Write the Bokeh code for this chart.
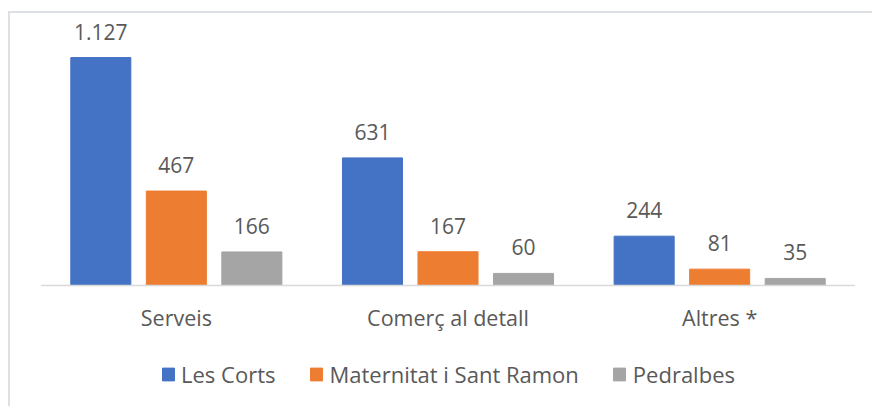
from bokeh.plotting import figure
from bokeh.models import FactorRange, Range1d, ColumnDataSource, LabelSet, Legend, LegendItem
from bokeh.transform import dodge
from bokeh.core.properties import value
from bokeh.embed import file_html
from bokeh.resources import INLINE

categories = ["Serveis", "Comerç al detall", "Altres *"]
series_names = ["Les Corts", "Maternitat i Sant Ramon", "Pedralbes"]
les_corts = [1127, 631, 244]
maternitat = [467, 167, 81]
pedralbes = [166, 60, 35]
series_values = [les_corts, maternitat, pedralbes]
colors = ["#4472C4", "#ED7D31", "#A5A5A5"]
offsets = [-0.278, 0.0, 0.278]

TEXT = "#595959"
FONT = "Open Sans"


def fmt(v):
    return f"{v:,}".replace(",", ".")


p = figure(
    x_range=FactorRange(*categories, range_padding=0),
    y_range=Range1d(-608, 1340),
    width=864, height=395,
    output_backend="svg", toolbar_location=None,
    min_border_left=30, min_border_right=19,
    min_border_top=1, min_border_bottom=0,
)
p.margin = (11, 0, 0, 8)
p.styles = {"border-top": "2px solid #dcdfe4", "border-left": "2px solid #dcdfe4"}
p.outline_line_color = None
p.background_fill_color = "white"
p.border_fill_color = "white"
p.grid.visible = False
p.yaxis.visible = False

xa = p.xaxis[0]
xa.fixed_location = 0
xa.axis_line_color = "#d9d9d9"
xa.axis_line_width = 1.5
xa.major_tick_line_color = None
xa.minor_tick_line_color = None
xa.major_label_text_font = FONT
xa.major_label_text_font_size = "21.5px"
xa.major_label_text_color = TEXT
xa.major_label_standoff = 11

items = []
for name, vals, col, off in zip(series_names, series_values, colors, offsets):
    src = ColumnDataSource(dict(cat=categories, val=vals, lab=[fmt(v) for v in vals]))
    r = p.vbar(x=dodge("cat", off, range=p.x_range), top="val", width=0.221,
               source=src, fill_color=col, line_color=col)
    lbl = LabelSet(x=dodge("cat", off, range=p.x_range), y="val", text="lab",
                   source=src, text_align="center", text_baseline="alphabetic",
                   y_offset=18, text_font=value(FONT), text_font_size="21px",
                   text_color=TEXT)
    p.add_layout(lbl)
    items.append(LegendItem(label=name, renderers=[r]))

legend = Legend(items=items, orientation="horizontal", location="bottom_center",
                label_text_font=FONT, label_text_font_size="22px",
                label_text_color=TEXT, glyph_width=15, glyph_height=16,
                label_height=20, label_standoff=6, spacing=33,
                border_line_color=None, background_fill_alpha=0,
                padding=0, margin=19)
p.add_layout(legend, "center")

open("out.html", "w").write(file_html(p, INLINE))
